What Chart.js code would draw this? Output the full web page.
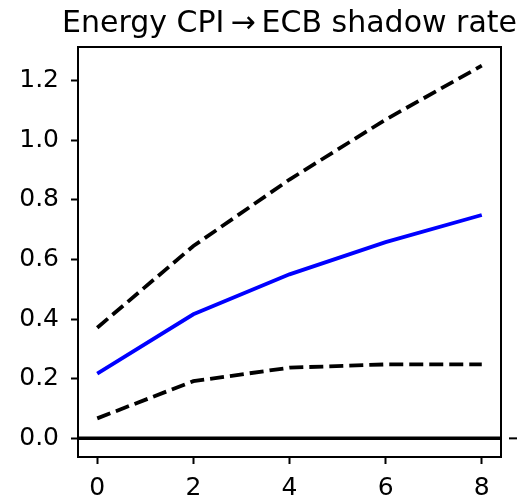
<!DOCTYPE html>
<html>
<head>
<meta charset="utf-8">
<script src="https://cdn.jsdelivr.net/npm/chart.js@4"></script>
<style>
  html, body { margin: 0; padding: 0; background: #fff; }
  canvas { display: block; }
</style>
</head>
<body>
<canvas id="irfChart" width="522" height="497"></canvas>
<script>
const titleText = "Energy CPI\u2009\u2192\u2009ECB shadow rate";
const horizons = [0, 2, 4, 6, 8];
const median = [0.217, 0.416, 0.550, 0.658, 0.749];
const upperBand = [0.371, 0.645, 0.868, 1.069, 1.250];
const lowerBand = [0.067, 0.192, 0.237, 0.248, 0.248];
const zeroLine = [0, 0];
const zeroX = [-0.4, 8.4];
const xTicks = [0, 2, 4, 6, 8];
const yTicks = [0, 0.2, 0.4, 0.6, 0.8, 1.0, 1.2];

const FONT = "'DejaVu Sans', sans-serif";

function toPoints(xs, ys) {
    return xs.map((x, i) => ({ x: x, y: ys[i] }));
}

// box round the plot, the title above it and the stray tick of the next panel
const framePlugin = {
    id: "frame",
    afterDraw(chart) {
        const ctx = chart.ctx;
        const a = chart.chartArea;
        ctx.save();
        ctx.strokeStyle = "#000";
        ctx.lineWidth = 2;
        ctx.strokeRect(a.left, a.top, a.right - a.left, a.bottom - a.top);

        const y0 = chart.scales.y.getPixelForValue(0);
        ctx.beginPath();
        ctx.moveTo(a.right + 8, y0);
        ctx.lineTo(a.right + 16, y0);
        ctx.stroke();

        ctx.fillStyle = "#000";
        ctx.font = "30px " + FONT;
        ctx.textAlign = "center";
        ctx.textBaseline = "alphabetic";
        ctx.fillText(titleText, (a.left + a.right) / 2, 32);
        ctx.restore();
    }
};

const config = {
    type: "line",
    data: {
        datasets: [
            {
                data: toPoints(zeroX, zeroLine),
                borderColor: "#000",
                borderWidth: 3.5,
                pointRadius: 0
            },
            {
                data: toPoints(horizons, upperBand),
                borderColor: "#000",
                borderWidth: 3.8,
                borderDash: [14, 6],
                pointRadius: 0
            },
            {
                data: toPoints(horizons, lowerBand),
                borderColor: "#000",
                borderWidth: 3.8,
                borderDash: [14, 6],
                pointRadius: 0
            },
            {
                data: toPoints(horizons, median),
                borderColor: "#0000ff",
                borderWidth: 3.8,
                pointRadius: 0
            }
        ]
    },
    options: {
        responsive: false,
        animation: false,
        events: [],
        layout: { padding: { top: 47, right: 21, left: 0, bottom: 0 } },
        plugins: {
            legend: { display: false },
            tooltip: { enabled: false },
            title: { display: false }
        },
        scales: {
            x: {
                type: "linear",
                min: -0.4,
                max: 8.4,
                afterBuildTicks: (scale) => { scale.ticks = xTicks.map(v => ({ value: v })); },
                afterFit: (scale) => { scale.height = 40; },
                grid: {
                    drawOnChartArea: false,
                    drawTicks: true,
                    tickLength: 7,
                    tickWidth: 2,
                    tickColor: "#000"
                },
                border: { display: true, color: "#000", width: 2 },
                ticks: {
                    color: "#000",
                    padding: 9,
                    maxRotation: 0,
                    font: { family: FONT, size: 25 },
                    callback: (v) => String(v)
                }
            },
            y: {
                type: "linear",
                min: -0.0625,
                max: 1.3125,
                afterBuildTicks: (scale) => { scale.ticks = yTicks.map(v => ({ value: v })); },
                afterFit: (scale) => { scale.width = 78; },
                grid: {
                    drawOnChartArea: false,
                    drawTicks: true,
                    tickLength: 7,
                    tickWidth: 2,
                    tickColor: "#000"
                },
                border: { display: true, color: "#000", width: 2 },
                ticks: {
                    color: "#000",
                    padding: 12,
                    font: { family: FONT, size: 25 },
                    callback: (v) => v.toFixed(1)
                }
            }
        }
    },
    plugins: [framePlugin]
};

new Chart(document.getElementById("irfChart"), config);
</script>
</body>
</html>
